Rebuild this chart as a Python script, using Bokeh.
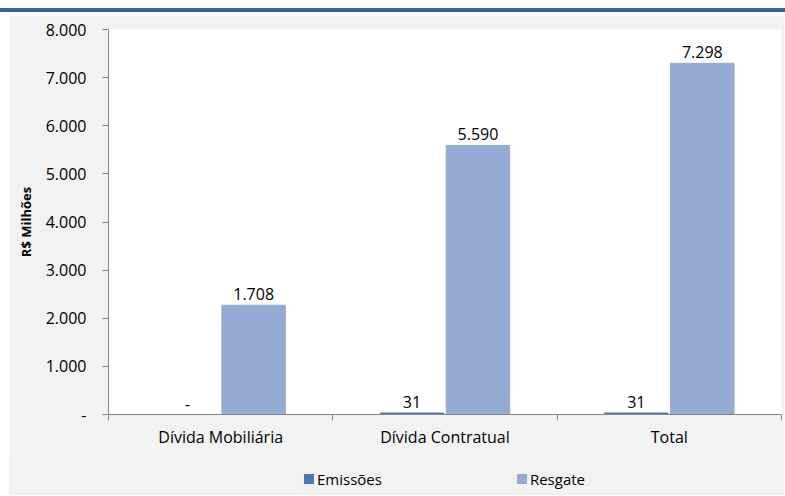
from bokeh.plotting import figure
from bokeh.models import Range1d, FixedTicker, ColumnDataSource, Div
from bokeh.layouts import column
from bokeh.embed import file_html
from bokeh.resources import INLINE
from bokeh.core.properties import value

# ---- data ----
categories = ["Dívida Mobiliária", "Dívida Contratual", "Total"]
emissoes = [0, 31, 31]
resgate = [2270, 5590, 7298]          # bar heights as drawn in the picture
emissoes_labels = ["-", "31", "31"]   # data labels as printed
resgate_labels = ["1.708", "5.590", "7.298"]
series_names = ["Emissões", "Resgate"]
y_ticks = [0, 1000, 2000, 3000, 4000, 5000, 6000, 7000, 8000]
y_axis_title = "R$ Milhões"

FONT = "Open Sans"
EM_COLOR = "#4a7ab5"
RS_COLOR = "#95abd4"
AXIS_COLOR = "#868686"
BG = "#f2f2f2"


def fmt(v):
    return "-" if v == 0 else f"{v:,.0f}".replace(",", ".")


idx = list(range(len(categories)))
off = 0.147
src = ColumnDataSource(dict(
    xe=[i - off for i in idx],
    xr=[i + off for i in idx],
    em=emissoes,
    rs=resgate,
    eml=emissoes_labels,
    rsl=resgate_labels,
))

p = figure(width=775, height=440,
           x_range=Range1d(-0.5, len(categories) - 0.5),
           y_range=Range1d(y_ticks[0], y_ticks[-1]),
           output_backend="svg", toolbar_location=None,
           min_border_left=99, min_border_right=3,
           min_border_top=14, min_border_bottom=41)
p.margin = (0, 1, 0, 9)

r1 = p.vbar(x="xe", top="em", width=0.283, color=EM_COLOR, source=src)
r2 = p.vbar(x="xr", top="rs", width=0.283, color=RS_COLOR, source=src)

for xcol, ycol, tcol in [("xe", "em", "eml"), ("xr", "rs", "rsl")]:
    p.text(x=xcol, y=ycol, text=tcol, source=src, text_align="center",
           text_baseline="alphabetic", y_offset=-11,
           text_font=value(FONT), text_font_size="16px", text_color="black")

# axes
yax = p.yaxis[0]
yax.ticker = FixedTicker(ticks=y_ticks)
yax.major_label_overrides = {t: fmt(t) for t in y_ticks}
yax.major_tick_out = 6
yax.major_tick_in = 0
yax.minor_tick_line_color = None
yax.major_label_standoff = 16
yax.axis_label = y_axis_title
yax.axis_label_text_font = FONT
yax.axis_label_text_font_style = "bold"
yax.axis_label_text_font_size = "13px"
yax.axis_label_text_color = "black"
yax.axis_label_standoff = 8

xax = p.xaxis[0]
xax.ticker = FixedTicker(ticks=idx, minor_ticks=[i - 0.5 for i in range(len(categories) + 1)])
xax.major_label_overrides = {i: c for i, c in zip(idx, categories)}
xax.major_tick_out = 6
xax.major_tick_in = 0
xax.major_tick_line_color = None
xax.minor_tick_out = 6
xax.minor_tick_in = 0
xax.minor_tick_line_color = AXIS_COLOR
xax.major_label_standoff = 5

for ax in (xax, yax):
    ax.axis_line_color = AXIS_COLOR
    ax.major_label_text_font = FONT
    ax.major_label_text_font_size = "16px"
    ax.major_label_text_color = "black"
yax.major_tick_line_color = AXIS_COLOR

p.xgrid.visible = False
p.ygrid.visible = False
p.outline_line_color = None
p.background_fill_color = "white"
p.border_fill_color = BG

# legend strip (HTML) below the chart
def legend_item(name, color):
    return (f'<span style="display:inline-flex;align-items:center;">'
            f'<span style="display:inline-block;width:10px;height:10px;'
            f'background:{color};margin-right:3px;"></span>{name}</span>')

legend_html = (
    f'<div style="width:673px;margin-left:99px;padding-top:14px;display:flex;'
    f'justify-content:center;column-gap:135px;font-family:\'{FONT}\';'
    f'font-size:15px;line-height:20px;color:black;">'
    + legend_item(series_names[0], EM_COLOR)
    + legend_item(series_names[1], RS_COLOR)
    + '</div>'
)
leg = Div(text=legend_html, width=775, height=40, margin=(0, 1, 0, 9),
          styles={"background-color": BG})

band = Div(text="", width=785, height=4, margin=(8, 0, 3, 0),
           styles={"background-color": "#336699"})
layout = column(band, p, leg, spacing=0)

open("out.html", "w").write(file_html(layout, INLINE))
